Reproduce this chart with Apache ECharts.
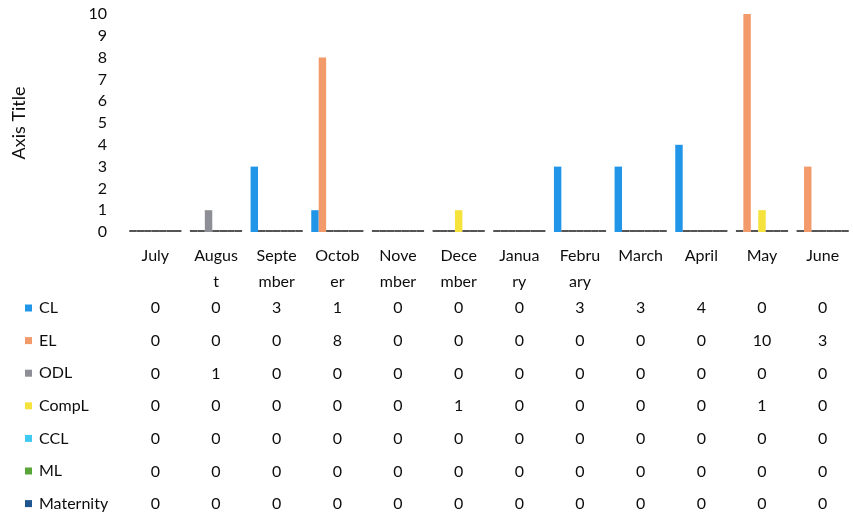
<!DOCTYPE html>
<html>
<head>
<meta charset="utf-8">
<script src="https://cdn.jsdelivr.net/npm/echarts@6/dist/echarts.min.js"></script>
<style>html,body{margin:0;padding:0;background:#fff}#c{width:853px;height:519px}</style>
</head>
<body>
<div id="c"></div>
<script>
var categories = ["July","August","September","October","November","December","January","February","March","April","May","June"];
var tickLabels = ["July","Augus\nt","Septe\nmber","Octob\ner","Nove\nmber","Dece\nmber","Janua\nry","Febru\nary","March","April","May","June"];
var seriesNames = ["CL","EL","ODL","CompL","CCL","ML","Maternity"];
var CL        = [0,0,3,1,0,0,0,3,3,4,0,0];
var EL        = [0,0,0,8,0,0,0,0,0,0,10,3];
var ODL       = [0,1,0,0,0,0,0,0,0,0,0,0];
var CompL     = [0,0,0,0,0,1,0,0,0,0,1,0];
var CCL       = [0,0,0,0,0,0,0,0,0,0,0,0];
var ML        = [0,0,0,0,0,0,0,0,0,0,0,0];
var Maternity = [0,0,0,0,0,0,0,0,0,0,0,0];
var yTicks = [0,1,2,3,4,5,6,7,8,9,10];

var allValues = [CL,EL,ODL,CompL,CCL,ML,Maternity];
var colors = ["#2196e8","#f39a6b","#8e8e96","#f5e23c","#3fcaf2","#5aa53a","#1f5690"];
var FONT = "Lato";
var TXT = "#0d0d0d";
var FS = 16;

var series = seriesNames.map(function(n, i){
  return {
    name: n, type: "bar", xAxisIndex: 0, yAxisIndex: 0,
    barGap: "0%", barCategoryGap: "14%", barMinHeight: 2,
    itemStyle: {color: colors[i]},
    data: allValues[i].map(function(v){
      return v === 0 ? {value: v, itemStyle: {color: "#555"}} : v;
    })
  };
});

var xAxes = [{
  type: "category", gridIndex: 0, data: tickLabels, position: "bottom",
  axisLine: {show: false}, axisTick: {show: false},
  axisLabel: {interval: 0, margin: 11, fontFamily: FONT, fontSize: FS, lineHeight: 26, color: TXT}
}];
var rowOffsets0 = 68, rowStep = 32.7;
allValues.forEach(function(vals, i){
  xAxes.push({
    type: "category", gridIndex: 0, data: vals.map(String), position: "bottom",
    offset: rowOffsets0 + rowStep * i,
    axisLine: {show: false}, axisTick: {show: false},
    axisLabel: {interval: 0, margin: 0, fontFamily: FONT, fontSize: FS, color: TXT}
  });
});

var chart = echarts.init(document.getElementById("c"));
chart.setOption({
  animation: false,
  color: colors,
  grid: {left: 125, top: 14, width: 738, height: 218},
  legend: {
    orient: "vertical", left: 20, top: 294, height: 240, itemWidth: 7, itemHeight: 7,
    itemGap: 14.6, icon: "rect", data: seriesNames,
    textStyle: {fontFamily: FONT, fontSize: FS, lineHeight: 18, color: TXT, padding: [0,0,0,2]}
  },
  xAxis: xAxes,
  yAxis: {
    type: "value", min: 0, max: 10, interval: 1,
    name: "Axis Title", nameLocation: "middle", nameRotate: 90, nameGap: 97,
    nameTextStyle: {fontFamily: FONT, fontSize: 18, color: TXT},
    axisLine: {show: false}, axisTick: {show: false}, splitLine: {show: false},
    axisLabel: {margin: 18, fontFamily: FONT, fontSize: FS, color: TXT,
      formatter: function(v){ return yTicks.indexOf(v) >= 0 ? String(v) : ""; }}
  },
  series: series
});
</script>
</body>
</html>
